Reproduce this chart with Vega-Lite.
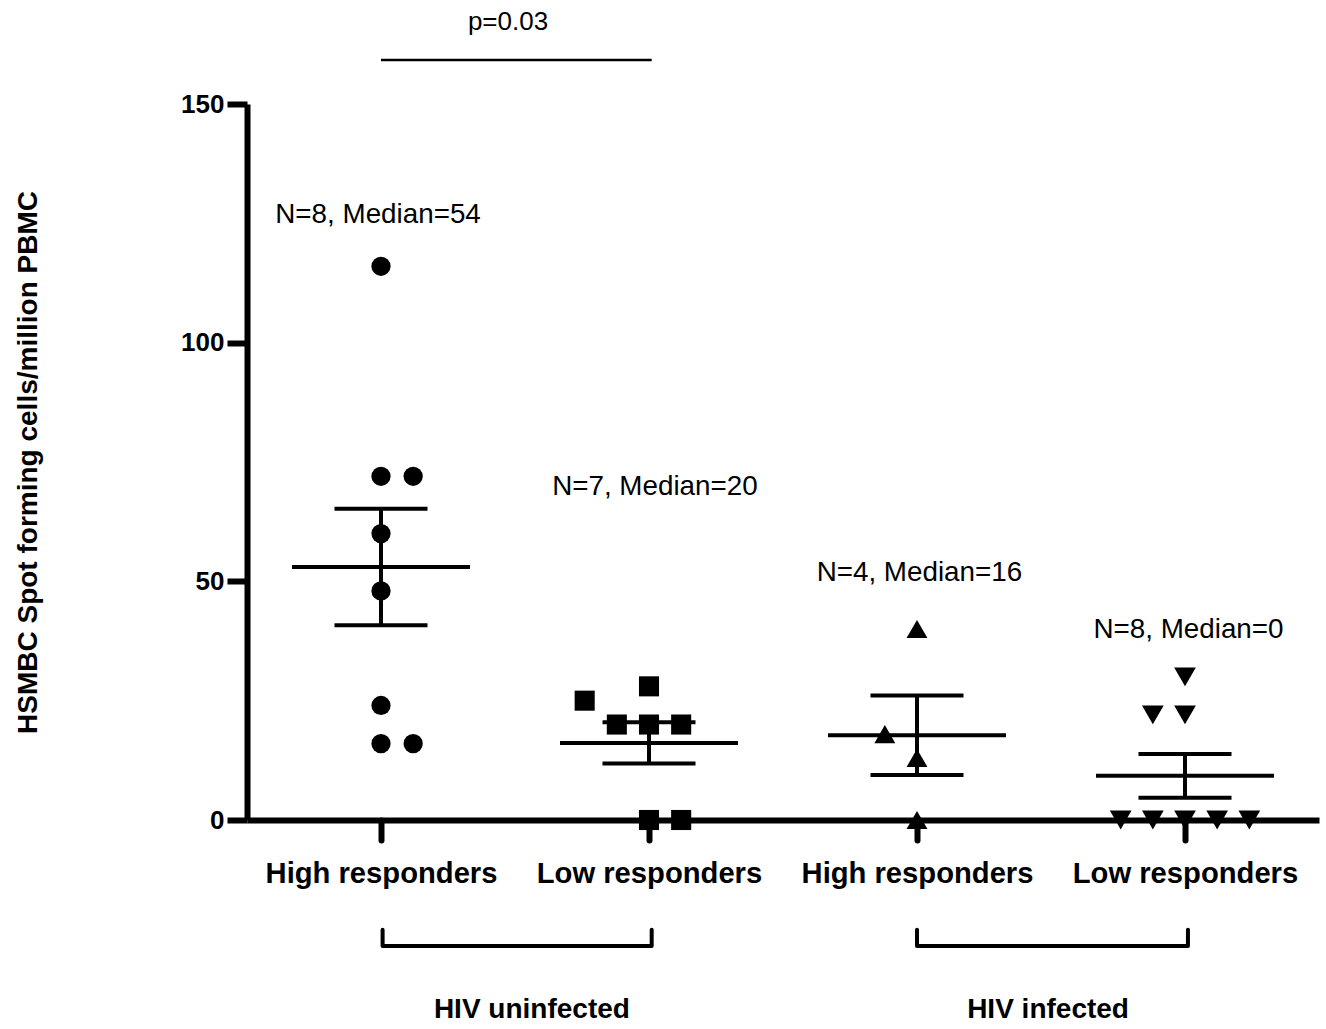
{
  "$schema": "https://vega.github.io/schema/vega-lite/v6.json",
  "width": 1072,
  "height": 716,
  "autosize": {"type": "none"},
  "padding": {"left": 247, "top": 104, "right": 7, "bottom": 209},
  "background": "white",
  "config": {
    "view": {"stroke": null},
    "font": "Liberation Sans",
    "axis": {
      "grid": false,
      "domainColor": "black",
      "domainWidth": 6,
      "tickColor": "black",
      "tickWidth": 6,
      "tickSize": 20,
      "labelColor": "black",
      "labelFont": "Liberation Sans",
      "labelFontWeight": "bold",
      "labelLimit": 0,
      "titleFont": "Liberation Sans",
      "titleFontWeight": "bold",
      "titleColor": "black"
    }
  },
  "datasets": {
    "points": [
      {"g": 1, "x": 1, "v": 116},
      {"g": 1, "x": 1, "v": 72},
      {"g": 1, "x": 1.12, "v": 72},
      {"g": 1, "x": 1, "v": 60},
      {"g": 1, "x": 1, "v": 48},
      {"g": 1, "x": 1, "v": 24},
      {"g": 1, "x": 1, "v": 16},
      {"g": 1, "x": 1.12, "v": 16},
      {"g": 2, "x": 1.76, "v": 25},
      {"g": 2, "x": 2, "v": 28},
      {"g": 2, "x": 1.88, "v": 20},
      {"g": 2, "x": 2, "v": 20},
      {"g": 2, "x": 2.12, "v": 20},
      {"g": 2, "x": 2, "v": 0},
      {"g": 2, "x": 2.12, "v": 0},
      {"g": 3, "x": 3, "v": 40},
      {"g": 3, "x": 2.88, "v": 18},
      {"g": 3, "x": 3, "v": 13},
      {"g": 3, "x": 3, "v": 0},
      {"g": 4, "x": 4, "v": 30},
      {"g": 4, "x": 3.88, "v": 22},
      {"g": 4, "x": 4, "v": 22},
      {"g": 4, "x": 3.76, "v": 0},
      {"g": 4, "x": 3.88, "v": 0},
      {"g": 4, "x": 4, "v": 0},
      {"g": 4, "x": 4.12, "v": 0},
      {"g": 4, "x": 4.24, "v": 0}
    ],
    "notes": [
      {"x": 0.989, "v": 126.7, "label": "N=8, Median=54"},
      {"x": 2.022, "v": 69.8, "label": "N=7, Median=20"},
      {"x": 3.009, "v": 51.7, "label": "N=4, Median=16"},
      {"x": 4.013, "v": 39.8, "label": "N=8, Median=0"}
    ],
    "ptext": [
      {"x": 1.474, "v": 167.2, "label": "p=0.03"}
    ],
    "groups": [
      {"x": 1.563, "v": -39.8, "label": "HIV uninfected"},
      {"x": 3.489, "v": -39.8, "label": "HIV infected"}
    ],
    "pline": [
      {"x": 1.0, "x2": 2.01, "v": 159.2}
    ],
    "brackets": [
      {"b": 1, "o": 1, "x": 1.006, "v": -23.0},
      {"b": 1, "o": 2, "x": 1.006, "v": -26.4},
      {"b": 1, "o": 3, "x": 2.01, "v": -26.4},
      {"b": 1, "o": 4, "x": 2.01, "v": -23.0},
      {"b": 2, "o": 1, "x": 3.0, "v": -23.0},
      {"b": 2, "o": 2, "x": 3.0, "v": -26.4},
      {"b": 2, "o": 3, "x": 4.011, "v": -26.4},
      {"b": 2, "o": 4, "x": 4.011, "v": -23.0}
    ]
  },
  "layer": [
    {
      "data": {"name": "points"},
      "mark": {"type": "point", "filled": true, "color": "black", "opacity": 1, "strokeWidth": 0},
      "encoding": {
        "x": {
          "field": "x", "type": "quantitative",
          "scale": {"domain": [0.5, 4.5], "nice": false, "zero": false},
          "title": null,
          "axis": {
            "values": [1, 2, 3, 4],
            "labelExpr": "['', 'High responders', 'Low responders', 'High responders', 'Low responders'][datum.value]",
            "labelFontSize": 29.2,
            "labelPadding": 19,
            "labelFlush": false,
            "labelOverlap": false,
            "labelLimit": 0,
            "tickCap": "round"
          }
        },
        "y": {
          "field": "v", "type": "quantitative",
          "scale": {"domain": [0, 150], "nice": false, "zero": false},
          "title": "HSMBC Spot forming cells/million PBMC",
          "axis": {
            "values": [0, 50, 100, 150],
            "labelFontSize": 26,
            "labelPadding": 3,
            "titleFontSize": 28,
            "titlePadding": 138
          }
        },
        "shape": {
          "field": "g", "type": "nominal",
          "scale": {"domain": [1, 2, 3, 4], "range": ["circle", "square", "triangle-up", "triangle-down"]},
          "legend": null
        },
        "size": {
          "field": "g", "type": "ordinal",
          "scale": {"domain": [1, 2, 3, 4], "range": [370, 470, 480, 480]},
          "legend": null
        }
      }
    },
    {
      "data": {"name": "points"},
      "mark": {
        "type": "errorbar", "extent": "stderr", "orient": "vertical",
        "thickness": 4, "color": "black",
        "ticks": {"size": 93, "thickness": 4, "color": "black", "opacity": 1}
      },
      "encoding": {
        "x": {"field": "g", "type": "quantitative", "scale": {"domain": [0.5, 4.5], "nice": false, "zero": false}, "title": null},
        "y": {"field": "v", "type": "quantitative", "scale": {"domain": [0, 150], "nice": false, "zero": false}, "title": "HSMBC Spot forming cells/million PBMC"}
      }
    },
    {
      "data": {"name": "points"},
      "mark": {"type": "tick", "orient": "horizontal", "size": 178, "thickness": 4, "color": "black", "opacity": 1},
      "encoding": {
        "x": {"field": "g", "type": "quantitative", "scale": {"domain": [0.5, 4.5], "nice": false, "zero": false}, "title": null},
        "y": {"aggregate": "mean", "field": "v", "type": "quantitative", "scale": {"domain": [0, 150], "nice": false, "zero": false}, "title": "HSMBC Spot forming cells/million PBMC"}
      }
    },
    {
      "data": {"name": "notes"},
      "mark": {"type": "text", "font": "Liberation Sans", "fontSize": 27.8, "align": "center", "baseline": "middle", "color": "black"},
      "encoding": {
        "x": {"field": "x", "type": "quantitative", "scale": {"domain": [0.5, 4.5], "nice": false, "zero": false}, "title": null},
        "y": {"field": "v", "type": "quantitative", "scale": {"domain": [0, 150], "nice": false, "zero": false}, "title": "HSMBC Spot forming cells/million PBMC"},
        "text": {"field": "label"}
      }
    },
    {
      "data": {"name": "ptext"},
      "mark": {"type": "text", "font": "Liberation Sans", "fontSize": 26, "align": "center", "baseline": "middle", "color": "black"},
      "encoding": {
        "x": {"field": "x", "type": "quantitative", "scale": {"domain": [0.5, 4.5], "nice": false, "zero": false}, "title": null},
        "y": {"field": "v", "type": "quantitative", "scale": {"domain": [0, 150], "nice": false, "zero": false}, "title": "HSMBC Spot forming cells/million PBMC"},
        "text": {"field": "label"}
      }
    },
    {
      "data": {"name": "groups"},
      "mark": {"type": "text", "font": "Liberation Sans", "fontSize": 28, "fontWeight": "bold", "align": "center", "baseline": "middle", "color": "black"},
      "encoding": {
        "x": {"field": "x", "type": "quantitative", "scale": {"domain": [0.5, 4.5], "nice": false, "zero": false}, "title": null},
        "y": {"field": "v", "type": "quantitative", "scale": {"domain": [0, 150], "nice": false, "zero": false}, "title": "HSMBC Spot forming cells/million PBMC"},
        "text": {"field": "label"}
      }
    },
    {
      "data": {"name": "pline"},
      "mark": {"type": "rule", "strokeWidth": 2.5, "color": "black"},
      "encoding": {
        "x": {"field": "x", "type": "quantitative", "scale": {"domain": [0.5, 4.5], "nice": false, "zero": false}, "title": null},
        "x2": {"field": "x2"},
        "y": {"field": "v", "type": "quantitative", "scale": {"domain": [0, 150], "nice": false, "zero": false}, "title": "HSMBC Spot forming cells/million PBMC"}
      }
    },
    {
      "data": {"name": "brackets"},
      "mark": {"type": "line", "strokeWidth": 4, "color": "black", "strokeCap": "round", "strokeJoin": "round"},
      "encoding": {
        "x": {"field": "x", "type": "quantitative", "scale": {"domain": [0.5, 4.5], "nice": false, "zero": false}, "title": null},
        "y": {"field": "v", "type": "quantitative", "scale": {"domain": [0, 150], "nice": false, "zero": false}, "title": "HSMBC Spot forming cells/million PBMC"},
        "detail": {"field": "b", "type": "nominal"},
        "order": {"field": "o", "type": "quantitative"}
      }
    }
  ]
}
